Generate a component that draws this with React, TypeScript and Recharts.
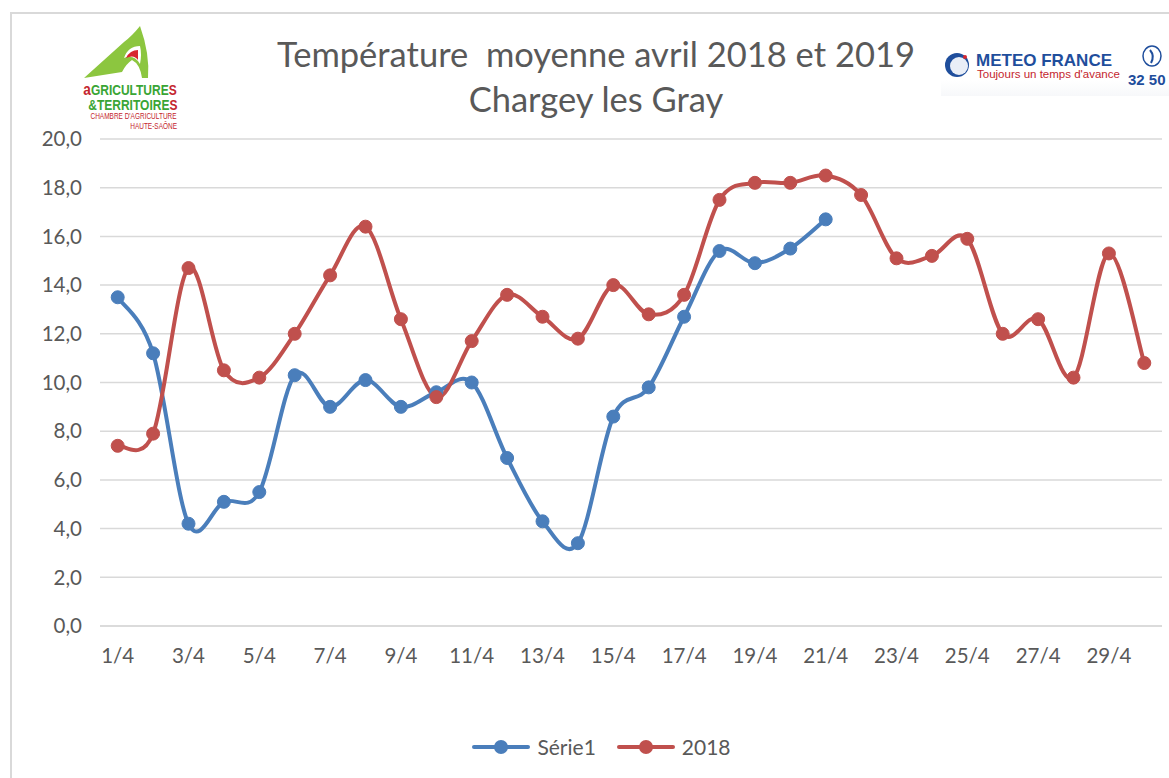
import React from "react";
import { LineChart, Line, XAxis, YAxis, CartesianGrid } from "recharts";

// jours d'avril
const days = [
  1, 2, 3, 4, 5, 6, 7, 8, 9, 10, 11, 12, 13, 14, 15, 16, 17, 18, 19, 20, 21,
  22, 23, 24, 25, 26, 27, 28, 29, 30,
];
// 2019 (Série1), s'arrête au 21/4
const serie1 = [
  13.5, 11.2, 4.2, 5.1, 5.5, 10.3, 9.0, 10.1, 9.0, 9.6, 10.0, 6.9, 4.3, 3.4,
  8.6, 9.8, 12.7, 15.4, 14.9, 15.5, 16.7,
];
const y2018 = [
  7.4, 7.9, 14.7, 10.5, 10.2, 12.0, 14.4, 16.4, 12.6, 9.4, 11.7, 13.6, 12.7,
  11.8, 14.0, 12.8, 13.6, 17.5, 18.2, 18.2, 18.5, 17.7, 15.1, 15.2, 15.9, 12.0,
  12.6, 10.2, 15.3, 10.8,
];
const labelDays = [1, 3, 5, 7, 9, 11, 13, 15, 17, 19, 21, 23, 25, 27, 29];
const boundaryTicks = [
  0.5, 2.5, 4.5, 6.5, 8.5, 10.5, 12.5, 14.5, 16.5, 18.5, 20.5, 22.5, 24.5,
  26.5, 28.5, 30.5,
];
const yTicks = [0, 2, 4, 6, 8, 10, 12, 14, 16, 18, 20];

const data = days.map((d, i) => ({
  day: d,
  serie1: i < serie1.length ? serie1[i] : null,
  y2018: y2018[i],
}));

const BLUE = "#4a7ebb";
const RED = "#c0504d";
const TEXT = "#595959";
const GRID = "#d9d9d9";
const FONT = "Lato, 'Open Sans', sans-serif";

// lissage façon Excel (catmull-rom)
const excelCurve = (context: any) => {
  let pts: number[][] = [];
  return {
    areaStart() {},
    areaEnd() {},
    lineStart() {
      pts = [];
    },
    point(x: number, y: number) {
      pts.push([+x, +y]);
    },
    lineEnd() {
      if (!pts.length) return;
      context.moveTo(pts[0][0], pts[0][1]);
      for (let i = 0; i < pts.length - 1; i++) {
        const p0 = pts[i - 1] || pts[i];
        const p1 = pts[i];
        const p2 = pts[i + 1];
        const p3 = pts[i + 2] || p2;
        context.bezierCurveTo(
          p1[0] + (p2[0] - p0[0]) / 6,
          p1[1] + (p2[1] - p0[1]) / 6,
          p2[0] - (p3[0] - p1[0]) / 6,
          p2[1] - (p3[1] - p1[1]) / 6,
          p2[0],
          p2[1]
        );
      }
    },
  };
};

const legendItems = [
  { name: "Série1", color: BLUE },
  { name: "2018", color: RED },
];

const ChartLegend = () => (
  <div
    style={{
      position: "absolute",
      left: 0,
      top: 734,
      width: 1202,
      display: "flex",
      justifyContent: "center",
      alignItems: "center",
      fontFamily: FONT,
      fontSize: 21,
      color: TEXT,
    }}
  >
    {legendItems.map((s) => (
      <div
        key={s.name}
        style={{ display: "flex", alignItems: "center", margin: "0 10px" }}
      >
        <svg width={60} height={18} style={{ marginRight: 6 }}>
          <line x1={3} y1={9} x2={57} y2={9} stroke={s.color} strokeWidth={4} strokeLinecap="round" />
          <circle cx={30} cy={9} r={7} fill={s.color} />
        </svg>
        <span>{s.name}</span>
      </div>
    ))}
  </div>
);

const narrow = (scale: number): React.CSSProperties => ({
  display: "inline-block",
  transform: `scaleX(${scale})`,
  transformOrigin: "right center",
  whiteSpace: "nowrap",
});

const AgriLogo = () => (
  <div
    style={{
      position: "absolute",
      left: 80,
      top: 24,
      width: 97,
      height: 110,
      fontFamily: "'Liberation Sans', sans-serif",
      textAlign: "right",
      lineHeight: 1,
    }}
  >
    <svg width={80} height={58} style={{ position: "absolute", left: 0, top: 0 }}>
      <path d="M4 54 L44 18 Q52 12 60 2 Q70 30 68 54 L62 54 Q60 40 52 36 Q46 40 42 48 Z" fill="#8cc63f" />
      <path d="M44 34 Q48 22 60 22 Q62 30 60 40 Q54 30 44 34 Z" fill="#ffffff" />
      <path d="M46 34 Q50 26 58 26 L58 36 Q54 30 46 34 Z" fill="#d7262e" />
    </svg>
    <div style={{ position: "absolute", right: 0, top: 57, fontSize: 15, fontWeight: 700, color: "#3aa535" }}>
      <span style={narrow(0.8)}>
        <span style={{ color: "#c4262e", fontSize: 17 }}>a</span>GRICULTURE
        <span style={{ color: "#c4262e" }}>S</span>
      </span>
    </div>
    <div style={{ position: "absolute", right: 0, top: 73, fontSize: 15, fontWeight: 700, color: "#3aa535" }}>
      <span style={narrow(0.8)}>
        &amp;TERRITOIRE<span style={{ color: "#c4262e" }}>S</span>
      </span>
    </div>
    <div style={{ position: "absolute", right: 0, top: 88, fontSize: 9, color: "#c4262e" }}>
      <span style={narrow(0.72)}>CHAMBRE D'AGRICULTURE</span>
    </div>
    <div style={{ position: "absolute", right: 0, top: 98, fontSize: 9, color: "#c4262e" }}>
      <span style={narrow(0.72)}>HAUTE-SAÔNE</span>
    </div>
  </div>
);

const MeteoLogo = () => (
  <div
    style={{
      position: "absolute",
      left: 941,
      top: 44,
      width: 230,
      height: 52,
      fontFamily: "'Liberation Sans', Arial, sans-serif",
      background: "linear-gradient(#ffffff 70%, #f7f8fa)",
    }}
  >
    <svg width={26} height={26} style={{ position: "absolute", left: 3, top: 8 }}>
      <circle cx={13} cy={13} r={12} fill="#1f4e9c" />
      <circle cx={15} cy={14} r={9} fill="#e9eef7" />
      <circle cx={21} cy={5} r={2} fill="#d7262e" />
    </svg>
    <div
      style={{
        position: "absolute",
        left: 35,
        top: 7,
        color: "#1f4e9c",
        fontSize: 17,
        fontWeight: 700,
        whiteSpace: "nowrap",
      }}
    >
      METEO FRANCE
    </div>
    <div
      style={{
        position: "absolute",
        left: 36,
        top: 24,
        color: "#c4262e",
        fontSize: 11.5,
        whiteSpace: "nowrap",
      }}
    >
      Toujours un temps d'avance
    </div>
    <svg width={26} height={24} style={{ position: "absolute", left: 198, top: 0 }}>
      <ellipse cx={13} cy={12} rx={9} ry={10} fill="none" stroke="#1f4e9c" strokeWidth={1.5} />
      <path d="M11 6 Q16 12 12 19" fill="none" stroke="#1f4e9c" strokeWidth={2} />
    </svg>
    <div
      style={{
        position: "absolute",
        left: 187,
        top: 27,
        color: "#1f4e9c",
        fontSize: 15,
        fontWeight: 700,
        whiteSpace: "nowrap",
      }}
    >
      32 50
    </div>
  </div>
);

export default function App() {
  return (
    <div
      style={{
        position: "absolute",
        left: 0,
        top: 0,
        width: 1169,
        height: 778,
        background: "#ffffff",
        overflow: "hidden",
      }}
    >
      <div
        style={{
          position: "absolute",
          left: 10,
          top: 12,
          width: 1200,
          height: 800,
          border: "2px solid #d9d9d9",
        }}
      />
      <div
        style={{
          position: "absolute",
          left: 0,
          top: 31,
          width: 1192,
          textAlign: "center",
          fontFamily: FONT,
          fontSize: 34.5,
          color: TEXT,
          lineHeight: "45px",
        }}
      >
        <div>Température&nbsp; moyenne avril 2018 et 2019</div>
        <div>Chargey les Gray</div>
      </div>
      <AgriLogo />
      <MeteoLogo />
      <div style={{ position: "absolute", left: 0, top: 0 }}>
        <LineChart
          width={1169}
          height={778}
          data={data}
          margin={{ top: 139, right: 7, left: 0, bottom: 112 }}
        >
          <CartesianGrid vertical={false} stroke={GRID} strokeWidth={1.5} />
          <XAxis
            xAxisId="bounds"
            dataKey="day"
            type="number"
            domain={[0.5, 30.5]}
            ticks={boundaryTicks}
            height={0}
            axisLine={false}
            tickLine={{ stroke: GRID, strokeWidth: 1.5 }}
            tickSize={7}
            tickFormatter={() => ""}
          />
          <XAxis
            dataKey="day"
            type="number"
            domain={[0.5, 30.5]}
            ticks={labelDays}
            height={40}
            axisLine={{ stroke: GRID, strokeWidth: 1.5 }}
            tickLine={false}
            tickMargin={16}
            tick={{ fill: TEXT, fontSize: 20.5, fontFamily: FONT }}
            tickFormatter={(d) => `${d}/4`}
          />
          <YAxis
            width={100}
            domain={[0, 20]}
            ticks={yTicks}
            axisLine={false}
            tickLine={false}
            tickSize={0}
            tickMargin={18}
            tick={{ fill: TEXT, fontSize: 20.5, fontFamily: FONT }}
            tickFormatter={(v) => v.toFixed(1).replace(".", ",")}
          />
          <Line
            dataKey="serie1"
            name="Série1"
            type={excelCurve as any}
            stroke={BLUE}
            strokeWidth={4}
            dot={{ r: 6.5, fill: BLUE, stroke: BLUE, strokeWidth: 1 }}
            activeDot={false}
            isAnimationActive={false}
          />
          <Line
            dataKey="y2018"
            name="2018"
            type={excelCurve as any}
            stroke={RED}
            strokeWidth={4}
            dot={{ r: 6.5, fill: RED, stroke: RED, strokeWidth: 1 }}
            activeDot={false}
            isAnimationActive={false}
          />
        </LineChart>
      </div>
      <ChartLegend />
    </div>
  );
}
